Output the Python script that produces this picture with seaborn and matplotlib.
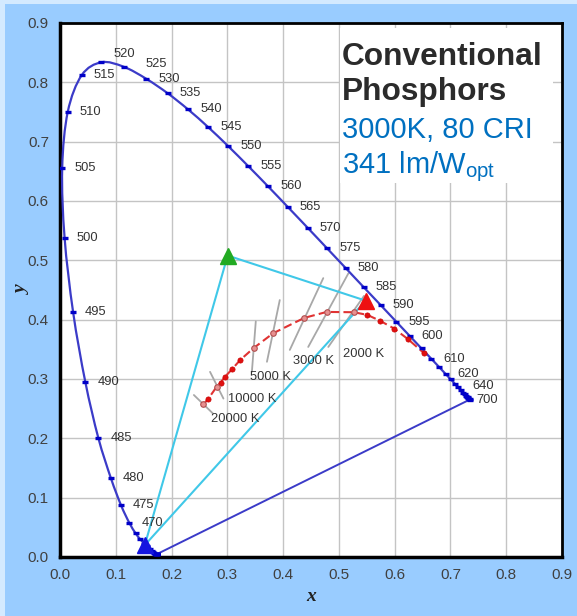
import numpy as np
import pandas as pd
import matplotlib
matplotlib.use("Agg")
import matplotlib.pyplot as plt
import seaborn as sns
from matplotlib.patches import Rectangle, PathPatch
from matplotlib.path import Path

# ---------------- data ----------------
wl = [380, 385, 390, 395, 400, 405, 410, 415, 420, 425, 430, 435, 440, 445, 450, 455,
      460, 465, 470, 475, 480, 485, 490, 495, 500, 505, 510, 515, 520, 525, 530, 535,
      540, 545, 550, 555, 560, 565, 570, 575, 580, 585, 590, 595, 600, 605, 610, 615,
      620, 625, 630, 635, 640, 645, 650, 655, 660, 665, 670, 680, 690, 700]
locus_x = [0.1741, 0.1740, 0.1738, 0.1736, 0.1733, 0.1730, 0.1726, 0.1721, 0.1714, 0.1703,
           0.1689, 0.1669, 0.1644, 0.1611, 0.1566, 0.1510, 0.1440, 0.1355, 0.1241, 0.1096,
           0.0913, 0.0687, 0.0454, 0.0235, 0.0082, 0.0039, 0.0139, 0.0389, 0.0743, 0.1142,
           0.1547, 0.1929, 0.2296, 0.2658, 0.3016, 0.3373, 0.3731, 0.4087, 0.4441, 0.4788,
           0.5125, 0.5448, 0.5752, 0.6029, 0.6270, 0.6482, 0.6658, 0.6801, 0.6915, 0.7006,
           0.7079, 0.7140, 0.7190, 0.7230, 0.7260, 0.7283, 0.7300, 0.7311, 0.7320, 0.7334,
           0.7344, 0.7347]
locus_y = [0.0050, 0.0050, 0.0049, 0.0049, 0.0048, 0.0048, 0.0048, 0.0048, 0.0051, 0.0058,
           0.0069, 0.0086, 0.0109, 0.0138, 0.0177, 0.0227, 0.0297, 0.0399, 0.0578, 0.0868,
           0.1327, 0.2007, 0.2950, 0.4127, 0.5384, 0.6548, 0.7502, 0.8120, 0.8338, 0.8262,
           0.8059, 0.7816, 0.7543, 0.7243, 0.6923, 0.6589, 0.6245, 0.5896, 0.5547, 0.5202,
           0.4866, 0.4544, 0.4242, 0.3965, 0.3725, 0.3514, 0.3340, 0.3197, 0.3083, 0.2993,
           0.2920, 0.2859, 0.2809, 0.2770, 0.2740, 0.2717, 0.2700, 0.2689, 0.2680, 0.2666,
           0.2656, 0.2653]
label_wl = [470, 475, 480, 485, 490, 495, 500, 505, 510, 515, 520, 525, 530, 535, 540, 545,
            550, 555, 560, 565, 570, 575, 580, 585, 590, 595, 600, 610, 620, 640, 700]

cct_K = [20000, 15000, 10000, 9000, 8000, 7000, 6000, 5000, 4000, 3000, 2500, 2000,
         1800, 1600, 1400, 1200, 1000]
cct_x = [0.257, 0.266, 0.281, 0.288, 0.296, 0.308, 0.323, 0.347, 0.382, 0.438, 0.478,
         0.527, 0.551, 0.574, 0.599, 0.624, 0.652]
cct_y = [0.257, 0.267, 0.287, 0.294, 0.304, 0.316, 0.332, 0.352, 0.377, 0.403, 0.413,
         0.4125, 0.408, 0.398, 0.385, 0.367, 0.344]

iso_K = [20000, 10000, 5000, 4000, 3000, 2500, 2000]
iso_x1 = [0.240, 0.269, 0.351, 0.394, 0.472, 0.517, 0.545]
iso_y1 = [0.273, 0.312, 0.397, 0.433, 0.470, 0.478, 0.440]
iso_x2 = [0.274, 0.293, 0.344, 0.371, 0.412, 0.445, 0.481]
iso_y2 = [0.242, 0.267, 0.312, 0.329, 0.349, 0.354, 0.354]

cct_labels = ["20000 K", "10000 K", "5000 K", "3000 K", "2000 K"]
cct_label_x = [0.314, 0.344, 0.378, 0.454, 0.544]
cct_label_y = [0.232, 0.267, 0.304, 0.330, 0.342]

prim_names = ["Blue", "Green", "Red"]
prim_x = [0.152, 0.3006, 0.548]
prim_y = [0.020, 0.508, 0.432]
prim_colors = ["#1515E0", "#22AA22", "#EE1111"]

title_lines = ["Conventional", "Phosphors", "3000K, 80 CRI", "341 lm/W$_{\\mathrm{opt}}$"]

x_ticks = [0.0, 0.1, 0.2, 0.3, 0.4, 0.5, 0.6, 0.7, 0.8, 0.9]
y_ticks = [0.0, 0.1, 0.2, 0.3, 0.4, 0.5, 0.6, 0.7, 0.8, 0.9]

# ---------------- style ----------------
sns.set_style("white")
plt.rcParams["font.family"] = ["Liberation Sans", "DejaVu Sans"]
plt.rcParams["mathtext.fontset"] = "custom"
plt.rcParams["mathtext.rm"] = "Liberation Sans"
plt.rcParams["mathtext.it"] = "Liberation Sans:italic"

BG = "#99CCFF"
EDGE = "#D4EAFF"
W, H = 577, 616
fig = plt.figure(figsize=(W / 100, H / 100), dpi=100, facecolor=EDGE)
fig.patches.append(Rectangle((5 / W, 0), 1 - 5 / W, 1 - 4 / H, transform=fig.transFigure,
                             facecolor=BG, edgecolor="none", zorder=-10))
ax = fig.add_axes([0.104, 0.0958, 0.870, 0.8669])
ax.set_zorder(1)
ax.set_facecolor("white")
ax.set_axisbelow(True)


def smooth_path(xs, ys):
    """Smoothed (Catmull-Rom style) rendering through the given points."""
    P = np.column_stack([xs, ys])
    n = len(P)
    verts = [P[0]]
    codes = [Path.MOVETO]
    for i in range(n - 1):
        p0 = P[i - 1] if i > 0 else P[i]
        p1, p2 = P[i], P[i + 1]
        p3 = P[i + 2] if i + 2 < n else P[i + 1]
        c1 = p1 + (p2 - p0) / 6.0
        c2 = p2 - (p3 - p1) / 6.0
        verts += [c1, c2, p2]
        codes += [Path.CURVE4] * 3
    return Path(verts, codes)


LOCUS_C = "#3B3BC8"
close = pd.DataFrame({"x": [locus_x[-1], locus_x[0]], "y": [locus_y[-1], locus_y[0]]})
sns.lineplot(data=close, x="x", y="y", sort=False, estimator=None, ax=ax,
             color=LOCUS_C, lw=1.4, zorder=3)
ax.add_patch(PathPatch(smooth_path(locus_x, locus_y), facecolor="none",
                       edgecolor=LOCUS_C, lw=1.6, zorder=3))

# wavelength markers
ax.plot(locus_x, locus_y, ls="none", marker="_", ms=4.5, mew=2.4, color="#0000C8", zorder=4)

# wavelength labels
special = {520: (12, 8), 525: (22, 3), 640: (11, 4), 700: (7, 0)}
for w in label_wl:
    i = wl.index(w)
    dx, dy = special.get(w, (12, 0))
    ax.annotate(str(w), (locus_x[i], locus_y[i]), xytext=(dx, dy),
                textcoords="offset pixels", ha="left", va="center",
                fontsize=9.3, color="#333333", zorder=5)

# primaries triangle
tri = pd.DataFrame({"x": prim_x + [prim_x[0]], "y": prim_y + [prim_y[0]],
                    "i": range(4)})
sns.lineplot(data=tri, x="x", y="y", sort=False, estimator=None, ax=ax,
             color="#40C8E8", lw=1.5, zorder=3)

# isotemperature lines
for x1, y1, x2, y2 in zip(iso_x1, iso_y1, iso_x2, iso_y2):
    ax.plot([x1, x2], [y1, y2], color="#A8A8A8", lw=1.3, zorder=2)

# Planckian locus
pl = pd.DataFrame({"K": cct_K, "x": cct_x, "y": cct_y})
sns.lineplot(data=pl, x="x", y="y", sort=False, estimator=None, ax=ax,
             color="#E03333", lw=1.5, ls=(0, (4, 2)), zorder=3)
pl["iso"] = pl.K.isin(iso_K)
sns.scatterplot(data=pl[~pl.iso], x="x", y="y", ax=ax, color="#E01010",
                s=14, edgecolor="#CC0000", linewidth=0.5, zorder=4)
sns.scatterplot(data=pl[pl.iso], x="x", y="y", ax=ax, color="#E89090",
                s=16, edgecolor="#B05050", linewidth=0.8, zorder=4)

for t, x, y in zip(cct_labels, cct_label_x, cct_label_y):
    ax.text(x, y, t, ha="center", va="center", fontsize=9.3, color="#333333", zorder=5)

# primaries markers
for n, x, y, c in zip(prim_names, prim_x, prim_y, prim_colors):
    ax.plot([x], [y], marker="^", ms=12, color=c, mec=c, ls="none", zorder=6)

# title box
ax.add_patch(Rectangle((0.558, 0.700), 0.424, 0.291, transform=ax.transAxes,
                       facecolor="white", edgecolor="none", zorder=1))
tx = 0.5056
ax.text(tx, 0.829, title_lines[0], fontsize=22.8, fontweight="bold", color="#2B2B2B",
        va="baseline", ha="left", zorder=5)
ax.text(tx, 0.770, title_lines[1], fontsize=22.8, fontweight="bold", color="#2B2B2B",
        va="baseline", ha="left", zorder=5)
ax.text(tx, 0.706, title_lines[2], fontsize=21, color="#0070C0",
        va="baseline", ha="left", zorder=5)
ax.text(tx, 0.647, title_lines[3], fontsize=21, color="#0070C0",
        va="baseline", ha="left", zorder=5)

# axes
ax.set_xlim(0, 0.9)
ax.set_ylim(0, 0.9)
ax.set_xticks(x_ticks)
ax.set_yticks(y_ticks)
ax.set_xticklabels([f"{v:.1f}" for v in x_ticks])
ax.set_yticklabels([f"{v:.1f}" for v in y_ticks])
ax.set_xticks(np.arange(0, 0.9001, 0.02), minor=True)
ax.set_yticks(np.arange(0, 0.9001, 0.02), minor=True)
ax.grid(True, which="major", color="#C4C4C4", lw=1)
ax.tick_params(which="major", direction="in", length=5, width=1, colors="#222222",
               labelsize=11, labelcolor="#404040", pad=8)
ax.tick_params(which="minor", direction="in", length=3, width=0.8, colors="#222222")
ax.tick_params(top=False, right=False, which="both")
for s in ["left", "bottom"]:
    ax.spines[s].set_linewidth(2.5)
    ax.spines[s].set_color("black")
for s in ["top", "right"]:
    ax.spines[s].set_linewidth(2)
    ax.spines[s].set_color("black")
    ax.spines[s].set_visible(True)

ax.set_xlabel("x", fontsize=14, fontweight="bold", fontstyle="italic",
              family="Liberation Serif", color="#222222", labelpad=4)
ax.set_ylabel("y", fontsize=14, fontweight="bold", fontstyle="italic",
              family="Liberation Serif", color="#222222", labelpad=-2)

fig.savefig("out.png", dpi=100, facecolor=EDGE)
